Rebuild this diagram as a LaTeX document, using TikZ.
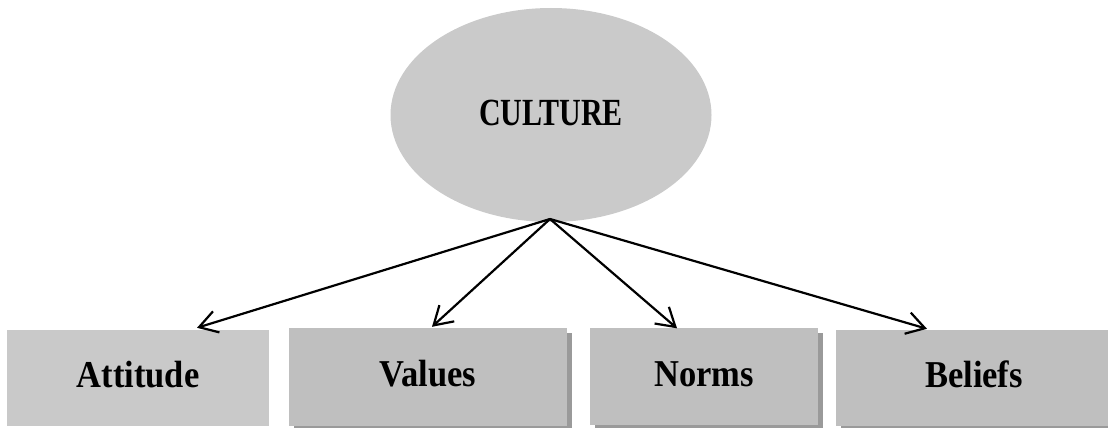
\documentclass[tikz,border=0pt]{standalone}
\usepackage{fontspec}
\setmainfont{Liberation Serif}
\usepackage{graphicx}
\usetikzlibrary{shapes.geometric,arrows.meta,shadows}
\definecolor{ellgray}{HTML}{CACACA}
\definecolor{boxlight}{HTML}{C9C9C9}
\definecolor{boxgray}{HTML}{BFBFBF}
\definecolor{shadowgray}{HTML}{9A9A9A}
\tikzset{
  boxlabel/.style={rectangle, inner sep=0pt, text height=19pt, text depth=0pt,
    font=\fontsize{34.5}{40}\selectfont\bfseries},
  shadowbox/.style={boxlabel, fill=boxgray,
    general shadow={fill=shadowgray, shadow xshift=5pt, shadow yshift=-5pt}},
  flatbox/.style={boxlabel, fill=boxlight},
  conn/.style={line width=2.2pt, -{Straight Barb[length=18pt,width=22pt,line width=2.2pt]}},
}
\begin{document}
\begin{tikzpicture}[x=1pt,y=-1pt]
\useasboundingbox (0,0) rectangle (1108,428);
\clip (0,0) rectangle (1108,428);
\node[ellipse, fill=ellgray, inner sep=0pt, minimum width=321pt, minimum height=214pt,
  text height=20pt, text depth=0pt, font=\fontsize{30}{36}\selectfont\bfseries]
  (cul) at (551,115) {\scalebox{1}[1.28]{CULTURE}};
\coordinate (hub) at (550,219);
\node[flatbox, minimum width=262pt, minimum height=96pt] (att) at (138,378) {\scalebox{1}[1.1]{Attitude}};
\node[shadowbox, minimum width=278pt, minimum height=98pt] (val) at (428,377) {\scalebox{1}[1.1]{Values}};
\node[shadowbox, minimum width=228pt, minimum height=97pt] (nor) at (704,376.5) {\scalebox{1}[1.1]{Norms}};
\node[shadowbox, minimum width=276pt, minimum height=96pt] (bel) at (974,378) {\scalebox{1}[1.1]{Beliefs}};
\draw[conn] (hub) -- ([xshift=59pt,yshift=2pt]att.north);
\draw[conn] (hub) -- ([xshift=4pt,yshift=1pt]val.north);
\draw[conn] (hub) -- ([xshift=-27pt,yshift=-0.5pt]nor.north);
\draw[conn] (hub) -- ([xshift=-47pt,yshift=1pt]bel.north);
\end{tikzpicture}
\end{document}
